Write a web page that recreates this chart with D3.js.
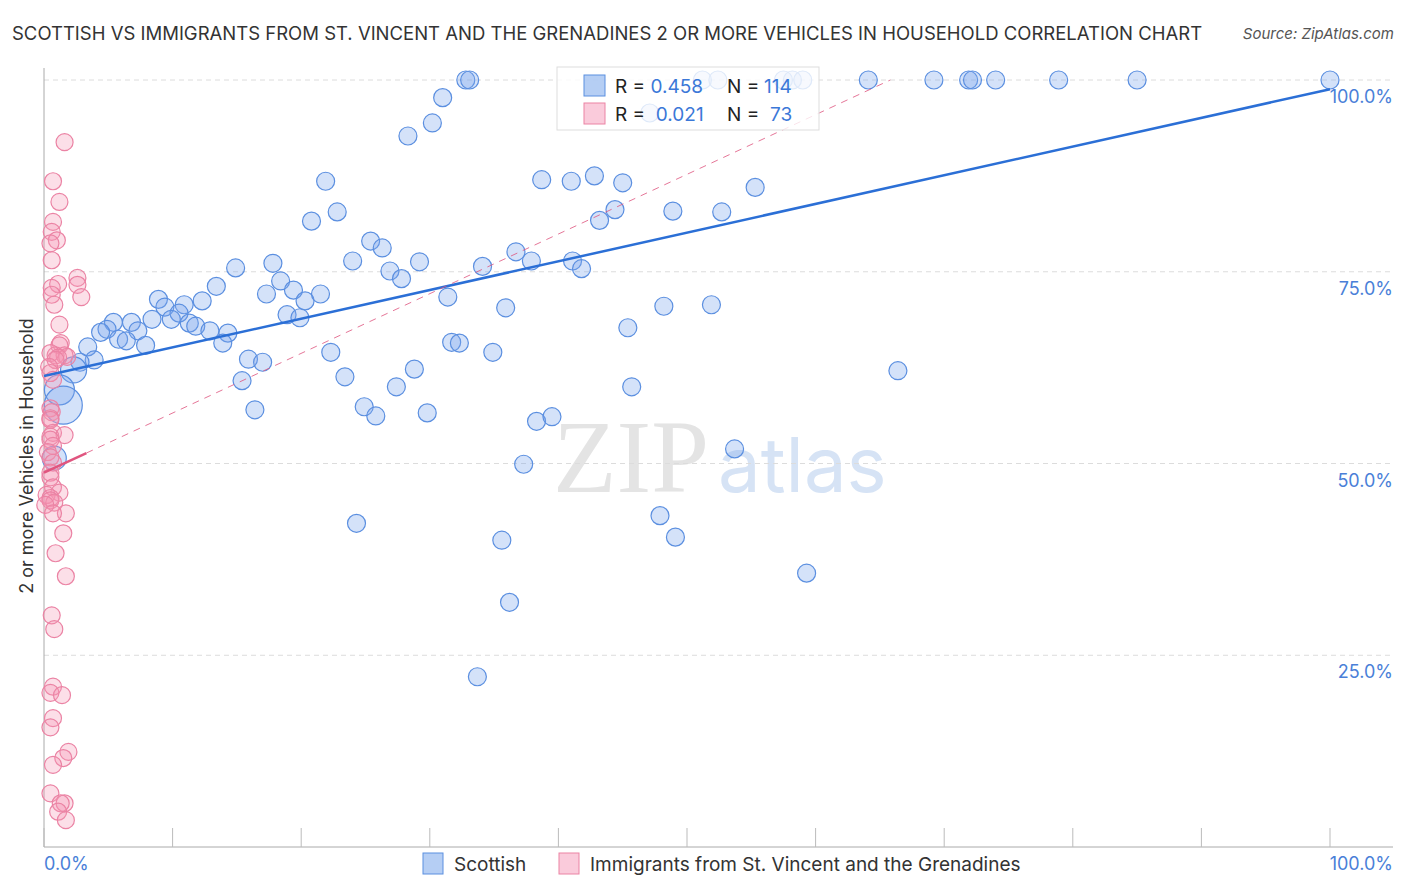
<!DOCTYPE html>
<html>
<head>
<meta charset="utf-8">
<script src="https://cdn.jsdelivr.net/npm/d3@7"></script>
<style>
	body { margin: 0; background: #fff; }
	svg text { font-family: "Inter", "Noto Sans", sans-serif; }
</style>
</head>
<body>
<div id="chart"></div>
<script>
'use strict';
(function(){

	// data: [x %, y %]
	var scottish = [
		[32.8,100],[33.1,100],[51.2,100],[52.4,100],[57.5,100],[58.2,100],[59.0,100],
		[64.1,100],[69.2,100],[71.9,100],[72.2,100],[74.0,100],[78.9,100],[85.0,100],[100,100],
		[31.0,97.7],[30.2,94.4],[28.3,92.7],[47.1,95.7],[21.9,86.8],[20.8,81.6],[22.8,82.8],
		[38.7,87.0],[41.0,86.8],[42.8,87.5],[45.0,86.6],[44.4,83.1],[43.2,81.7],[48.9,82.9],
		[52.7,82.8],[55.3,86.0],[14.9,75.5],[17.8,76.1],[18.4,73.8],[13.4,73.1],[17.3,72.1],
		[19.4,72.6],[20.3,71.2],[21.5,72.1],[8.9,71.4],[9.4,70.4],[10.9,70.7],[12.3,71.2],
		[10.5,69.6],[9.9,68.8],[8.4,68.8],[11.3,68.3],[11.8,67.9],[12.9,67.3],[14.3,67.0],
		[13.9,65.7],[5.4,68.4],[4.9,67.5],[6.8,68.4],[7.3,67.3],[4.4,67.1],[5.8,66.2],
		[6.4,66.0],[7.9,65.4],[3.4,65.2],[3.9,63.5],[2.8,63.2],[18.9,69.4],[19.9,69.0],
		[15.9,63.6],[17.0,63.2],[15.4,60.8],[16.4,57.0],[22.3,64.5],[23.4,61.3],[24.0,76.4],
		[25.4,79.0],[26.3,78.1],[26.9,75.1],[27.8,74.1],[29.2,76.3],[34.1,75.7],[36.7,77.6],
		[37.9,76.4],[41.1,76.4],[41.8,75.4],[31.4,71.7],[35.9,70.3],[31.7,65.8],[32.3,65.7],
		[34.9,64.5],[28.8,62.3],[27.4,60.0],[24.9,57.4],[25.8,56.2],[29.8,56.6],[38.3,55.5],
		[39.5,56.1],[48.2,70.5],[51.9,70.7],[45.4,67.7],[66.4,62.1],[45.7,60.0],[53.7,51.9],
		[47.9,43.2],[49.1,40.4],[59.3,35.7],[24.3,42.2],[35.6,40.0],[36.2,31.9],[33.7,22.2],
		[37.3,49.9]
	];
	// larger bubbles near the y axis: [x %, y %, radius px]
	var scottishBig = [[2.3,62.2,13],[1.2,59.6,15],[1.5,57.6,19],[0.8,50.7,12]];

	var immigrants = [
		[1.6,91.9],[0.7,86.8],[1.2,84.1],[0.7,81.5],[0.6,80.2],[1.0,79.1],[0.5,78.7],[0.6,76.5],
		[2.6,74.2],[2.6,73.3],[1.1,73.4],[0.6,72.9],[2.9,71.7],[0.6,72.0],[0.8,70.7],[1.2,68.1],
		[1.3,65.7],[1.2,65.4],[0.9,64.1],[1.6,64.1],[1.8,63.9],[0.5,64.4],[1.1,63.8],[0.9,63.5],
		[0.4,62.6],[0.5,61.8],[0.7,60.9],[0.5,57.2],[0.6,56.7],[0.5,55.9],[0.5,55.7],[0.7,54.0],
		[1.6,53.7],[0.5,53.5],[0.5,53.1],[0.7,52.3],[0.3,51.5],[0.5,50.8],[0.7,50.1],[0.5,48.8],
		[0.5,48.2],[0.7,46.9],[1.2,46.2],[0.2,45.9],[0.5,45.5],[0.5,45.2],[0.8,44.9],[0.1,44.6],
		[1.7,43.5],[0.7,43.5],[1.5,40.9],[0.9,38.3],[1.7,35.3],[0.6,30.2],[0.8,28.4],[0.7,20.9],
		[0.5,20.1],[1.4,19.8],[0.7,16.8],[0.5,15.6],[1.9,12.4],[1.5,11.6],[0.7,10.7],[0.5,7.0],
		[1.6,5.7],[1.3,5.7],[1.1,4.6],[1.7,3.5]
	];

	// trend lines: intercept, slope (in %)
	var scottishTrend = { a: 61.4, b: 0.374 };
	var immigrantTrend = { a: 48.8, b: 0.778, solidTo: 3.3 };

	var yTicks = [25, 50, 75, 100];
	var xTicks = d3.range(0, 101, 10);

	var blue = '#2b6fd6', blueFill = 'rgba(120,165,235,0.32)', blueStroke = '#5b8fe0';
	var pink = '#e0557f', pinkFill = 'rgba(245,150,180,0.3)', pinkStroke = '#eb83a4';

	var width = 1406, height = 892;
	var svg = d3.select('#chart').append('svg')
		.attr('width', width)
		.attr('height', height);

	var x = d3.scaleLinear().domain([0, 100]).range([44, 1330]);
	var y = d3.scaleLinear().domain([0, 100]).range([847, 80]);

	// title
	svg.append('text')
		.attr('x', 12).attr('y', 40)
		.attr('font-size', 18.5).attr('fill', '#333')
		.text('SCOTTISH VS IMMIGRANTS FROM ST. VINCENT AND THE GRENADINES 2 OR MORE VEHICLES IN HOUSEHOLD CORRELATION CHART');
	svg.append('text')
		.attr('x', 1394).attr('y', 39)
		.attr('text-anchor', 'end')
		.attr('font-size', 15).attr('font-style', 'italic').attr('fill', '#555')
		.text('Source: ZipAtlas.com');

	// watermark
	svg.append('text')
		.attr('x', 553).attr('y', 492)
		.attr('font-family', '"DejaVu Serif", "Liberation Serif", serif')
		.attr('font-size', 104).attr('fill', '#e4e4e4')
		.style('font-family', '"Liberation Serif", serif')
		.text('ZIP');
	svg.append('text')
		.attr('x', 718).attr('y', 492)
		.attr('font-size', 76).attr('fill', '#d6e3f5')
		.text('atlas');

	// grid
	svg.selectAll('.grid')
		.data(yTicks)
		.enter()
		.append('line')
		.attr('x1', 44).attr('x2', 1393)
		.attr('y1', function (d) { return y(d); })
		.attr('y2', function (d) { return y(d); })
		.attr('stroke', '#dcdcdc')
		.attr('stroke-dasharray', '5,4');

	svg.selectAll('.ylab')
		.data(yTicks)
		.enter()
		.append('text')
		.attr('x', 1393)
		.attr('y', function (d) { return y(d) + 23; })
		.attr('text-anchor', 'end')
		.attr('font-size', 18).attr('fill', '#4a7fd8')
		.text(function (d) { return d.toFixed(1) + '%'; });

	// axes
	svg.append('line')
		.attr('x1', 44).attr('x2', 44).attr('y1', 68).attr('y2', 847)
		.attr('stroke', '#aaa');
	svg.append('line')
		.attr('x1', 44).attr('x2', 1393).attr('y1', 847).attr('y2', 847)
		.attr('stroke', '#aaa');
	svg.selectAll('.xtick')
		.data(xTicks)
		.enter()
		.append('line')
		.attr('x1', function (d) { return x(d); })
		.attr('x2', function (d) { return x(d); })
		.attr('y1', 828).attr('y2', 847)
		.attr('stroke', '#bbb');

	svg.append('text')
		.attr('x', 44).attr('y', 870)
		.attr('font-size', 18).attr('fill', '#4a7fd8')
		.text('0.0%');
	svg.append('text')
		.attr('x', 1393).attr('y', 870)
		.attr('text-anchor', 'end')
		.attr('font-size', 18).attr('fill', '#4a7fd8')
		.text('100.0%');

	svg.append('text')
		.attr('transform', 'translate(33,456) rotate(-90)')
		.attr('text-anchor', 'middle')
		.attr('font-size', 18).attr('fill', '#333')
		.text('2 or more Vehicles in Household');

	// points
	function dots(data, fill, stroke, r) {
		svg.append('g').selectAll('circle')
			.data(data)
			.enter()
			.append('circle')
			.attr('cx', function (d) { return x(d[0]); })
			.attr('cy', function (d) { return y(d[1]); })
			.attr('r', function (d) { return d[2] || r; })
			.attr('fill', fill)
			.attr('stroke', stroke)
			.attr('stroke-width', 1.2);
	}
	dots(scottish, blueFill, blueStroke, 9);
	dots(scottishBig, blueFill, blueStroke, 9);
	dots(immigrants, pinkFill, pinkStroke, 8.5);

	// trend lines
	svg.append('line')
		.attr('x1', x(0)).attr('y1', y(scottishTrend.a))
		.attr('x2', x(100)).attr('y2', y(scottishTrend.a + scottishTrend.b * 100))
		.attr('stroke', blue).attr('stroke-width', 2.5);

	var pinkEnd = (100 - immigrantTrend.a) / immigrantTrend.b;
	svg.append('line')
		.attr('x1', x(immigrantTrend.solidTo))
		.attr('y1', y(immigrantTrend.a + immigrantTrend.b * immigrantTrend.solidTo))
		.attr('x2', x(pinkEnd)).attr('y2', y(100))
		.attr('stroke', pink).attr('stroke-width', 1)
		.attr('stroke-dasharray', '7,6').attr('opacity', 0.8);
	svg.append('line')
		.attr('x1', x(0)).attr('y1', y(immigrantTrend.a))
		.attr('x2', x(immigrantTrend.solidTo))
		.attr('y2', y(immigrantTrend.a + immigrantTrend.b * immigrantTrend.solidTo))
		.attr('stroke', pink).attr('stroke-width', 2.5);

	// stats legend
	var lg = svg.append('g');
	lg.append('rect')
		.attr('x', 557).attr('y', 67).attr('width', 262).attr('height', 63)
		.attr('fill', 'rgba(255,255,255,0.8)').attr('stroke', '#ddd');
	var rows = [
		{ fill: 'rgba(120,165,235,0.55)', stroke: blueStroke, r: '0.458', n: '114' },
		{ fill: 'rgba(245,160,190,0.55)', stroke: pinkStroke, r: '0.021', n: ' 73' }
	];
	rows.forEach(function (d, i) {
		var yy = 75 + i * 28;
		lg.append('rect')
			.attr('x', 584).attr('y', yy).attr('width', 21).attr('height', 21)
			.attr('fill', d.fill).attr('stroke', d.stroke);
		var t = lg.append('text')
			.attr('x', 615).attr('y', yy + 18)
			.attr('font-size', 19).attr('fill', '#222')
			.attr('xml:space', 'preserve');
		t.append('tspan').text('R = ');
		t.append('tspan').attr('fill', '#3b78d8').text(i ? ' ' + d.r : d.r);
		t.append('tspan').attr('x', 727).text('N = ');
		t.append('tspan').attr('fill', '#3b78d8').attr('x', i ? 770 : 764).text(d.n.trim());
	});

	// bottom legend
	var items = [
		{ label: 'Scottish', fill: 'rgba(120,165,235,0.55)', stroke: blueStroke, x: 423 },
		{ label: 'Immigrants from St. Vincent and the Grenadines', fill: 'rgba(245,160,190,0.55)', stroke: pinkStroke, x: 559 }
	];
	items.forEach(function (d) {
		svg.append('rect')
			.attr('x', d.x).attr('y', 853).attr('width', 20).attr('height', 21)
			.attr('fill', d.fill).attr('stroke', d.stroke);
		svg.append('text')
			.attr('x', d.x + 31).attr('y', 871)
			.attr('font-size', 19).attr('fill', '#333')
			.text(d.label);
	});

}());
</script>
</body>
</html>
